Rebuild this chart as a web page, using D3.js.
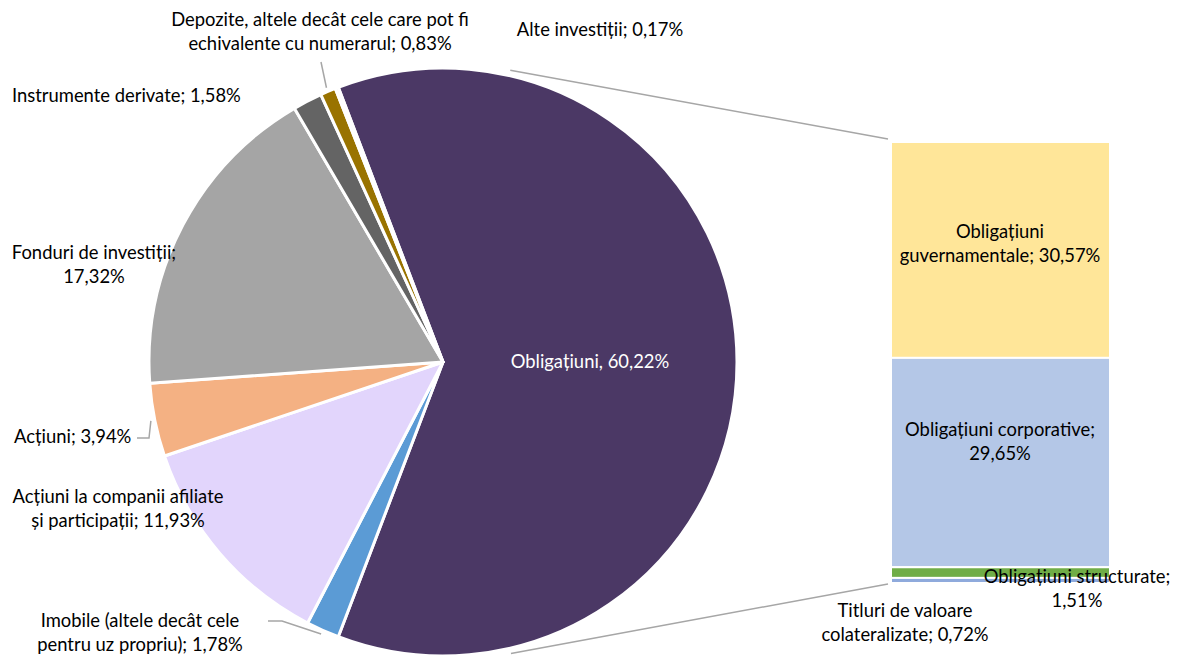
<!DOCTYPE html>
<html>
<head>
<meta charset="utf-8">
<script src="https://cdn.jsdelivr.net/npm/d3@7"></script>
<style>
  html, body { margin: 0; padding: 0; background: #fff; }
  svg { display: block; }
  text { font-family: Lato, "Open Sans", sans-serif; font-size: 18.4px; fill: #000; }
</style>
</head>
<body>
<svg id="chart" width="1178" height="655"></svg>
<script>
// Investment structure: main pie, with the bond slice broken down in a stacked bar
const pieCategories = [
  "Obligațiuni",
  "Imobile (altele decât cele pentru uz propriu)",
  "Acțiuni la companii afiliate și participații",
  "Acțiuni",
  "Fonduri de investiții",
  "Instrumente derivate",
  "Depozite, altele decât cele care pot fi echivalente cu numerarul",
  "Alte investiții"
];
const pieValues = [60.22, 1.78, 11.93, 3.94, 17.32, 1.58, 0.83, 0.17];
const pieColors = ["#4B3865", "#5B9BD5", "#E2D5FC", "#F4B183", "#A5A5A5", "#646464", "#997300", "#F4F4F4"];

const barCategories = [
  "Obligațiuni guvernamentale",
  "Obligațiuni corporative",
  "Obligațiuni structurate",
  "Titluri de valoare colateralizate"
];
const barValues = [30.57, 29.65, 1.51, 0.72];
const barColors = ["#FFE699", "#B4C7E7", "#70AD47", "#8FAADC"];

// Label line breaks (text lines per category)
const pieLabelLines = [
  ["Obligațiuni, {v}"],
  ["Imobile (altele decât cele", "pentru uz propriu); {v}"],
  ["Acțiuni la companii afiliate", "și participații; {v}"],
  ["Acțiuni; {v}"],
  ["Fonduri de investiții;", "{v}"],
  ["Instrumente derivate; {v}"],
  ["Depozite, altele decât cele care pot fi", "echivalente cu numerarul; {v}"],
  ["Alte investiții; {v}"]
];
const barLabelLines = [
  ["Obligațiuni", "guvernamentale; {v}"],
  ["Obligațiuni corporative;", "{v}"],
  ["Obligațiuni structurate;", "{v}"],
  ["Titluri de valoare", "colateralizate; {v}"]
];

// Layout
const W = 1178, H = 655;
const cx = 443, cy = 362, R = 294;
const bar = { x: 891, w: 219, top: 142, bottom: 583 };
const lineH = 24;

// label anchors: [x, y of first line centre, text-anchor]
const pieLabelPos = [
  [590, 362, "middle"],
  [140, 621, "middle"],
  [118, 497, "middle"],
  [14, 437, "start"],
  [94, 253, "middle"],
  [12, 96, "start"],
  [320, 20, "middle"],
  [600, 30, "middle"]
];
// leader line points on the label side, null = none
const pieLeaderStart = [null, [[268, 621], [282, 621]], null, [[137, 438], [149, 438]], null, null, [[321, 62]], null];

const barLabelPos = [
  [1000, 232, "middle"],
  [1000, 430, "middle"],
  [1077, 577, "middle"],
  [905, 611, "middle"]
];

const fmt = v => d3.format(".2f")(v).replace(".", ",") + "%";

const svg = d3.select("#chart");

// ---- Pie ----
const total = d3.sum(pieValues);
const bondHalf = Math.PI * pieValues[0] / total;
const start = Math.PI / 2 - bondHalf;
const pieData = d3.pie()
  .sort(null)
  .startAngle(start)
  .endAngle(start + 2 * Math.PI)
  .value(d => d)(pieValues);

const arc = d3.arc().innerRadius(0).outerRadius(R);
const g = svg.append("g").attr("transform", `translate(${cx},${cy})`);

g.selectAll("path.slice")
  .data(pieData)
  .join("path")
  .attr("class", "slice")
  .attr("d", arc)
  .attr("fill", (d, i) => pieColors[i])
  .attr("stroke", "#fff")
  .attr("stroke-width", 3)
  .attr("stroke-linejoin", "round");

// ---- Connector lines from pie to bar (tangents) ----
function tangentPoint(px, py, r, sign) {
  const dx = px - cx, dy = py - cy;
  const d = Math.hypot(dx, dy);
  const th = Math.atan2(dy, dx);
  const a = Math.acos(r / d);
  const t = th + sign * a;
  return [cx + r * Math.cos(t), cy + r * Math.sin(t)];
}
[[bar.top - 3, -1], [bar.bottom + 1, 1]].forEach(([ey, s]) => {
  const ex = bar.x - 3;
  const p = tangentPoint(ex, ey, R + 5, s);
  const L = Math.hypot(ex - p[0], ey - p[1]);
  const k = 14 / L;
  svg.append("line")
    .attr("x1", p[0] + (ex - p[0]) * k)
    .attr("y1", p[1] + (ey - p[1]) * k)
    .attr("x2", ex).attr("y2", ey)
    .attr("stroke", "#A6A6A6").attr("stroke-width", 1.5);
});

// ---- Stacked bar ----
const y = d3.scaleLinear().domain([0, d3.sum(barValues)]).range([bar.top, bar.bottom]);
const cum = d3.cumsum(barValues);
const barData = barValues.map((v, i) => ({ v, y0: cum[i] - v, y1: cum[i] }));

svg.selectAll("rect.seg")
  .data(barData)
  .join("rect")
  .attr("class", "seg")
  .attr("x", bar.x)
  .attr("width", bar.w)
  .attr("y", d => y(d.y0))
  .attr("height", d => y(d.y1) - y(d.y0))
  .attr("fill", (d, i) => barColors[i])
  .attr("stroke", "#fff")
  .attr("stroke-width", 2);

// ---- Leader lines ----
pieData.forEach((d, i) => {
  const pts = pieLeaderStart[i];
  if (!pts) return;
  const mid = (d.startAngle + d.endAngle) / 2;
  const end = [cx + (R + 4) * Math.sin(mid), cy - (R + 4) * Math.cos(mid)];
  svg.append("path")
    .attr("d", d3.line()([...pts, end]))
    .attr("fill", "none")
    .attr("stroke", "#A6A6A6")
    .attr("stroke-width", 1.5);
});

// ---- Labels ----
function drawLabel(lines, v, pos, color) {
  const t = svg.append("text")
    .attr("text-anchor", pos[2])
    .style("fill", color || "#000");
  lines.forEach((ln, k) => {
    t.append("tspan")
      .attr("x", pos[0])
      .attr("y", pos[1] + k * lineH)
      .attr("dy", "0.35em")
      .text(ln.replace("{v}", fmt(v)));
  });
}
pieValues.forEach((v, i) => drawLabel(pieLabelLines[i], v, pieLabelPos[i], i === 0 ? "#fff" : "#000"));
barValues.forEach((v, i) => drawLabel(barLabelLines[i], v, barLabelPos[i]));
</script>
</body>
</html>
